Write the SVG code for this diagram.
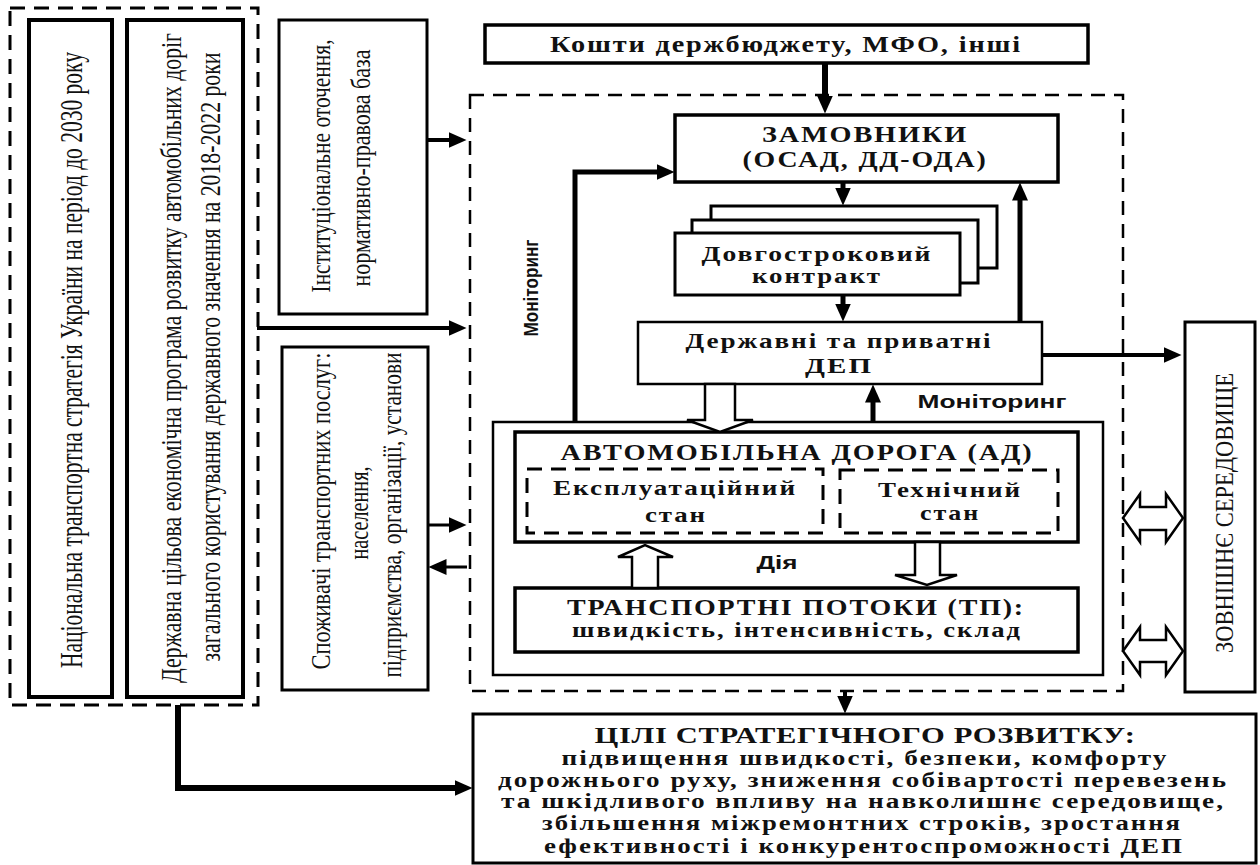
<svg xmlns="http://www.w3.org/2000/svg" width="1260" height="865" viewBox="0 0 1260 865">
<style>
.box{fill:#fff;stroke:#000;stroke-width:3}
.thick{stroke-width:4}
.dash{fill:none;stroke:#000;stroke-width:3;stroke-dasharray:15 9}
.dash2{fill:none;stroke:#000;stroke-width:2.5;stroke-dasharray:14 9}
.conn{fill:none;stroke:#000;stroke-width:5;marker-end:url(#ah)}
.hollow{fill:#fff;stroke:#000;stroke-width:2.5;stroke-linejoin:miter}
.tb{font-family:"Liberation Serif",serif;font-weight:bold;text-anchor:middle;fill:#111;letter-spacing:1.5px}
.tv{font-family:"Liberation Serif",serif;text-anchor:middle;fill:#111;font-size:22px}
.ts{font-family:"Liberation Sans",sans-serif;font-weight:bold;text-anchor:middle;fill:#111}
</style>
<defs>
<marker id="ah" markerUnits="userSpaceOnUse" markerWidth="18" markerHeight="16" viewBox="0 0 18 16" refX="0.5" refY="8" orient="auto">
<path d="M0,0 L18,8 L0,16 z" fill="#000"/>
</marker>
</defs>
<rect width="1260" height="865" fill="#fff"/>

<g id="left-group">
<rect class="dash" x="10" y="8" width="248" height="697"/>
</g>
<g id="nts">
<rect class="box thick" x="29" y="20" width="83" height="677"/>
<text class="tv" transform="translate(82,360) rotate(-90) scale(1,1.45)" textLength="616" lengthAdjust="spacingAndGlyphs">Національна транспортна стратегія  України на період до 2030 року</text>
</g>
<g id="dtsep">
<rect class="box thick" x="127" y="20" width="116" height="677"/>
<text class="tv" transform="translate(181,358) rotate(-90) scale(1,1.32)" textLength="650" lengthAdjust="spacingAndGlyphs">Державна цільова економічна програма розвитку автомобільних доріг</text>
<text class="tv" transform="translate(220,357) rotate(-90) scale(1,1.32)" textLength="609" lengthAdjust="spacingAndGlyphs">загального користування державного значення на 2018-2022 роки</text>
</g>
<g id="institutional">
<rect class="box" x="279" y="20" width="148" height="294"/>
<text class="tv" transform="translate(330,166) rotate(-90) scale(1,1.27)" textLength="253" lengthAdjust="spacingAndGlyphs">Інституціональне оточення,</text>
<text class="tv" transform="translate(370,168) rotate(-90) scale(1,1.27)" textLength="237" lengthAdjust="spacingAndGlyphs">нормативно-правова база</text>
</g>
<g id="consumers">
<rect class="box" x="282" y="347" width="146" height="343"/>
<text class="tv" transform="translate(330,511) rotate(-90) scale(1,1.27)" textLength="317" lengthAdjust="spacingAndGlyphs">Споживачі транспортних послуг:</text>
<text class="tv" transform="translate(368,513) rotate(-90) scale(1,1.27)" textLength="93" lengthAdjust="spacingAndGlyphs">населення,</text>
<text class="tv" transform="translate(401,515) rotate(-90) scale(1,1.27)" textLength="325" lengthAdjust="spacingAndGlyphs">підприємства, організації, установи</text>
</g>
<g id="funds">
<rect class="box" x="485" y="25" width="603" height="38" style="stroke-width:3.5"/>
<text class="tb" font-size="23" x="786" y="52" textLength="472" lengthAdjust="spacingAndGlyphs">Кошти держбюджету, МФО, інші</text>
</g>
<g id="system">
<rect class="dash2" x="470" y="95" width="653" height="596"/>
<text class="ts" font-size="16" transform="translate(538,288) rotate(-90) scale(1,1.25)" textLength="97" lengthAdjust="spacingAndGlyphs">Моніторинг</text>
</g>
<g id="customers">
<rect class="box" x="675" y="115" width="383" height="67" style="stroke-width:3.5"/>
<text class="tb" font-size="23" x="865" y="142" textLength="206" lengthAdjust="spacingAndGlyphs">ЗАМОВНИКИ</text>
<text class="tb" font-size="23" x="865" y="167" textLength="245" lengthAdjust="spacingAndGlyphs">(ОСАД, ДД-ОДА)</text>
</g>
<g id="contract">
<rect class="box" x="711" y="206" width="286" height="62"/>
<rect class="box" x="692" y="220" width="286" height="63"/>
<rect class="box" x="675" y="233" width="285" height="62"/>
<text class="tb" font-size="21" x="817" y="261" textLength="231" lengthAdjust="spacingAndGlyphs">Довгостроковий</text>
<text class="tb" font-size="21" x="817" y="283" textLength="130" lengthAdjust="spacingAndGlyphs">контракт</text>
</g>
<g id="dep">
<rect class="box" x="638" y="322" width="404" height="62" style="stroke-width:2.5"/>
<text class="tb" font-size="21" x="839" y="348" textLength="307" lengthAdjust="spacingAndGlyphs">Державні та приватні</text>
<text class="tb" font-size="21" x="839" y="373" textLength="68" lengthAdjust="spacingAndGlyphs">ДЕП</text>
</g>
<g id="monitoring-label">
<text class="ts" font-size="18" x="992" y="408" textLength="149" lengthAdjust="spacingAndGlyphs">Моніторинг</text>
</g>
<g id="road-system">
<rect class="box" x="493" y="422" width="610" height="253" style="stroke-width:2.5"/>
</g>
<g id="road">
<rect class="box" x="515" y="432" width="563" height="110" style="stroke-width:3.5"/>
<text class="tb" font-size="23" x="797" y="460" textLength="473" lengthAdjust="spacingAndGlyphs">АВТОМОБІЛЬНА ДОРОГА (АД)</text>
</g>
<g id="operational">
<rect class="dash" x="527" y="469" width="296" height="64"/>
<text class="tb" font-size="21" x="675" y="495" textLength="244" lengthAdjust="spacingAndGlyphs">Експлуатаційний</text>
<text class="tb" font-size="21" x="676" y="522" textLength="62" lengthAdjust="spacingAndGlyphs">стан</text>
</g>
<g id="technical">
<rect class="dash" x="840" y="470" width="218" height="63"/>
<text class="tb" font-size="21" x="950" y="497" textLength="144" lengthAdjust="spacingAndGlyphs">Технічний</text>
<text class="tb" font-size="21" x="950" y="520" textLength="60" lengthAdjust="spacingAndGlyphs">стан</text>
</g>
<g id="traffic">
<rect class="box" x="515" y="588" width="563" height="64" style="stroke-width:3.5"/>
<text class="tb" font-size="23" x="796" y="615" textLength="458" lengthAdjust="spacingAndGlyphs">ТРАНСПОРТНІ ПОТОКИ (ТП):</text>
<text class="tb" font-size="20" x="797" y="637" textLength="450" lengthAdjust="spacingAndGlyphs">швидкість, інтенсивність, склад</text>
</g>
<g id="action-label">
<text class="ts" font-size="18" x="777" y="569" textLength="41" lengthAdjust="spacingAndGlyphs">Дія</text>
</g>
<g id="environment">
<rect class="box" x="1185" y="322" width="70" height="370"/>
<text class="tv" transform="translate(1233,513) rotate(-90) scale(1,1.18)" textLength="280" lengthAdjust="spacingAndGlyphs">ЗОВНІШНЄ СЕРЕДОВИЩЕ</text>
</g>
<g id="goals">
<rect class="box" x="473" y="714" width="783" height="149"/>
<text class="tb" font-size="23" x="865" y="743" textLength="541" lengthAdjust="spacingAndGlyphs" style="letter-spacing:0.5px">ЦІЛІ СТРАТЕГІЧНОГО РОЗВИТКУ:</text>
<text class="tb" font-size="20" x="865" y="765" textLength="607" lengthAdjust="spacingAndGlyphs">підвищення швидкості, безпеки, комфорту</text>
<text class="tb" font-size="20" x="863" y="787" textLength="730" lengthAdjust="spacingAndGlyphs">дорожнього руху, зниження собівартості перевезень</text>
<text class="tb" font-size="20" x="863" y="808" textLength="724" lengthAdjust="spacingAndGlyphs">та шкідливого впливу на навколишнє середовище,</text>
<text class="tb" font-size="20" x="862" y="830" textLength="640" lengthAdjust="spacingAndGlyphs">збільшення міжремонтних строків, зростання</text>
<text class="tb" font-size="20" x="864" y="853" textLength="640" lengthAdjust="spacingAndGlyphs">ефективності і конкурентоспроможності  ДЕП</text>
</g>

<g id="connectors">
<path class="conn" d="M825,63 V96" style="stroke-width:6"/>
<path class="conn" d="M843,182 V188"/>
<path class="conn" d="M843,295 V304"/>
<path class="conn" d="M1020,322 V200"/>
<path class="conn" d="M575,422 V172 H657"/>
<path class="conn" d="M873,422 V402"/>
<path class="conn" d="M1042,355 H1164" style="stroke-width:4"/>
<path class="conn" d="M845,691 V696" style="stroke-width:4"/>
<path class="conn" d="M178,705 V788 H455" style="stroke-width:6"/>
<path class="conn" d="M427,140 H449" style="stroke-width:4"/>
<path class="conn" d="M257,328 H449" style="stroke-width:4"/>
<path class="conn" d="M428,525 H449" style="stroke-width:3"/>
<path class="conn" d="M467,567 H446" style="stroke-width:3"/>
<polygon class="hollow" points="705,384 705,420 687,420 720,432 753,420 735,420 735,384"/>
<polygon class="hollow" points="632,588 632,557 618,557 645,545 673,557 658,557 658,588"/>
<polygon class="hollow" points="915,542 915,575 895,575 927,585 957,575 940,575 940,542"/>
<polygon class="hollow" points="1123,518 1140,494 1140,507 1166,507 1166,494 1183,518 1166,542 1166,530 1140,530 1140,542"/>
<polygon class="hollow" points="1123,651 1140,627 1140,640 1166,640 1166,627 1183,651 1166,675 1166,662 1140,662 1140,675"/>
</g>
</svg>
